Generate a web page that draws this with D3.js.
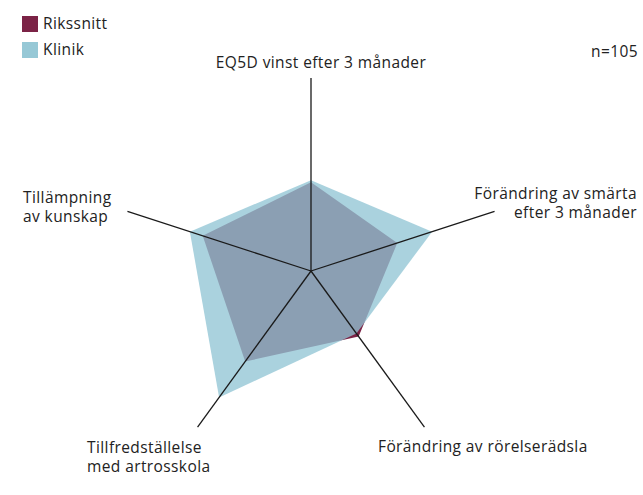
<!DOCTYPE html>
<html><head><meta charset="utf-8">
<script src="https://cdn.jsdelivr.net/npm/d3@7"></script>
<style>body{margin:0;background:#fff}svg{display:block}text{font-family:"Open Sans",sans-serif;fill:#222;letter-spacing:0.4px}</style>
</head><body>
<svg id="c" width="643" height="495"></svg>
<script>
const axes = ["EQ5D vinst efter 3 månader","Förändring av smärta efter 3 månader","Förändring av rörelserädsla","Tillfredställelse med artrosskola","Tillämpning av kunskap"];
const klinik = [47, 66, 40, 81, 66];
const rikssnitt = [46, 47, 42, 58, 59];
const seriesNames = ["Rikssnitt","Klinik"];
const nLabel = "n=105";

const svg = d3.select("#c");
const cx = 311, cy = 271, R = 193;
const r = d3.scaleLinear().domain([0,100]).range([0,R]);
const ang = d3.scaleLinear().domain([0, axes.length]).range([0, 2*Math.PI]);
const pt = (i,v) => [cx + r(v)*Math.sin(ang(i)), cy - r(v)*Math.cos(ang(i))];
const line = d3.line().curve(d3.curveLinearClosed);

svg.append("path").attr("d", line(rikssnitt.map((v,i)=>pt(i,v)))).attr("fill","#7b2346");
svg.append("path").attr("d", line(klinik.map((v,i)=>pt(i,v)))).attr("fill","#91c5d4").attr("fill-opacity",0.77);

axes.forEach((a,i)=>{
  const [x,y] = pt(i,100);
  svg.append("line").attr("x1",cx).attr("y1",cy).attr("x2",x).attr("y2",y).attr("stroke","#1a1a1a").attr("stroke-width",1.3);
});

const fs = 15.5;
const labelPos = [
  {x:321, y:68, anchor:"middle", lines:[axes[0]]},
  {x:637, y:199, anchor:"end", lines:["Förändring av smärta","efter 3 månader"]},
  {x:378, y:452, anchor:"start", lines:[axes[2]]},
  {x:87, y:453, anchor:"start", lines:["Tillfredställelse","med artrosskola"]},
  {x:23, y:203, anchor:"start", lines:["Tillämpning","av kunskap"]}
];
labelPos.forEach(l=>{
  const t = svg.append("text").attr("x",l.x).attr("y",l.y).attr("text-anchor",l.anchor).attr("font-size",fs);
  l.lines.forEach((s,j)=>t.append("tspan").attr("x",l.x).attr("dy", j?18.5:0).text(s));
});

const legColors = ["#7b2346","#96c8d6"];
seriesNames.forEach((s,i)=>{
  svg.append("rect").attr("x",22).attr("y",16+i*26).attr("width",16).attr("height",16).attr("fill",legColors[i]);
  svg.append("text").attr("x",43).attr("y",29+i*26).attr("font-size",fs).text(s);
});
svg.append("text").attr("x",638).attr("y",57).attr("text-anchor","end").attr("font-size",fs).text(nLabel);
</script>
</body></html>
